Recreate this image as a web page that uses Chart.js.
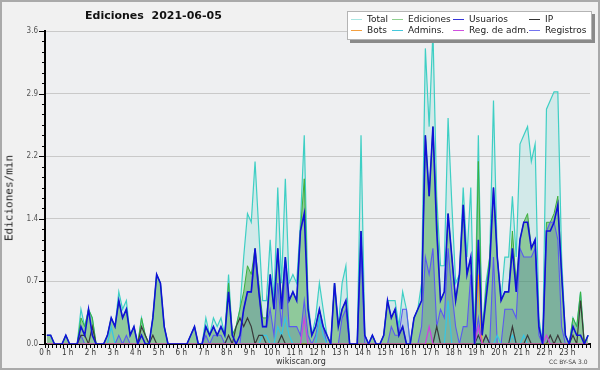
<!DOCTYPE html>
<html><head><meta charset="utf-8">
<script src="https://cdn.jsdelivr.net/npm/chart.js@4/dist/chart.umd.min.js"></script>
<style>
body{margin:0;background:#f1f1f1;}
#wrap{position:relative;width:600px;height:370px;overflow:hidden;background:#f1f1f1;}
#c{position:absolute;left:0;top:0;}
#frame{position:absolute;left:0;top:0;width:600px;height:370px;box-sizing:border-box;border:2px solid #aaaaaa;pointer-events:none;}
.t{position:absolute;white-space:nowrap;font-family:'DejaVu Sans',sans-serif;}
#title{left:85px;top:9px;font-size:11px;font-weight:bold;color:#111;line-height:14px;}
#ytitle{left:9px;top:198px;font-family:'DejaVu Sans Mono',monospace;font-size:11px;color:#222;transform:translate(-50%,-50%) rotate(-90deg);}
#site{left:276px;top:356px;font-size:8px;color:#333;line-height:11px;}
#lic{left:549px;top:358px;font-size:6px;color:#444;line-height:8px;}
#legend{position:absolute;left:347px;top:11px;width:245px;height:29px;background:#fff;border:1px solid #b4b4b4;box-shadow:3px 3px 0 #8a8a8a;box-sizing:border-box;}
.li{position:absolute;font-family:'DejaVu Sans',sans-serif;font-size:9px;color:#222;line-height:10px;white-space:nowrap;}
.ll{position:absolute;height:1px;width:11px;}
</style></head>
<body>
<div id="wrap">
<canvas id="c" width="600" height="370"></canvas>
<div class="t" id="title">Ediciones&nbsp; 2021-06-05</div>
<div class="t" id="ytitle">Ediciones/min</div>
<div class="t" id="site">wikiscan.org</div>
<div class="t" id="lic">CC BY-SA 3.0</div>
<div id="legend"></div>
<div id="frame"></div>
</div>
<script>
// ---- data: 144 ten-minute slots, edits per minute ----
const hourLabels = ['0 h','1 h','2 h','3 h','4 h','5 h','6 h','7 h','8 h','9 h','10 h','11 h','12 h','13 h','14 h','15 h','16 h','17 h','18 h','19 h','20 h','21 h','22 h','23 h'];
const yTickLabels = ['0.0','0.7','1.4','2.2','2.9','3.6'];

const total = [
 0.1,0.1,0,0,0,0.1,0,0,0,0.4,0.2,0.4,
 0.3,0,0,0,0.1,0.3,0.2,0.6,0.4,0.5,0.1,0.2,
 0,0.3,0.1,0,0.3,0.8,0.7,0.2,0,0,0,0,
 0,0,0.1,0.2,0,0,0.3,0.1,0.3,0.2,0.3,0.1,
 0.8,0.1,0.2,0.4,1.0,1.5,1.4,2.1,1.3,0.5,0.5,1.2,
 0.5,1.8,0.7,1.9,0.7,0.8,0.7,1.4,2.4,0.5,0.1,0.3,
 0.7,0.4,0.1,0,0.7,0.2,0.7,0.9,0,0,0,2.4,
 0.1,0,0.1,0,0,0.1,0.5,0.5,0.5,0.2,0.6,0.4,
 0,0.3,0.4,0.7,3.4,2.5,3.6,1.7,0.9,0.9,2.6,1.6,
 0.7,0.8,1.8,1.0,1.8,0,2.4,0.1,0.7,1.0,2.8,1.0,
 0.5,1.0,1.0,1.7,1.0,2.3,2.4,2.5,2.1,2.3,0.3,0,
 2.7,2.8,2.9,2.9,1.0,0.1,0,0.3,0.2,0.6,0,0.1];
const ediciones = [
 0.1,0.1,0,0,0,0.1,0,0,0,0.3,0.2,0.4,
 0.3,0,0,0,0.1,0.3,0.2,0.5,0.3,0.4,0.1,0.2,
 0,0.3,0.1,0,0.3,0.8,0.7,0.2,0,0,0,0,
 0,0,0.1,0.2,0,0,0.2,0.1,0.2,0.1,0.2,0.1,
 0.7,0.1,0.2,0.4,0.6,0.9,0.8,1.1,0.7,0.3,0.3,0.8,
 0.4,1.1,0.5,1.0,0.5,0.6,0.5,1.3,1.9,0.4,0.1,0.2,
 0.4,0.2,0.1,0,0.7,0.2,0.4,0.5,0,0,0,1.3,
 0.1,0,0.1,0,0,0.1,0.5,0.3,0.4,0.1,0.2,0,
 0,0.3,0.4,0.5,2.4,1.7,2.5,1.5,0.5,0.6,1.5,1.0,
 0.5,0.8,1.6,0.8,1.0,0,2.1,0.1,0.6,1.0,1.8,1.0,
 0.5,0.6,0.6,1.3,0.7,1.2,1.4,1.5,1.1,1.2,0.2,0,
 1.4,1.4,1.5,1.7,0.8,0.1,0,0.3,0.2,0.6,0,0.1];
const usuarios = [
 0.1,0.1,0,0,0,0.1,0,0,0,0.2,0.1,0.4,
 0.1,0,0,0,0.1,0.3,0.2,0.5,0.3,0.4,0.1,0.2,
 0,0.1,0,0,0.3,0.8,0.7,0.2,0,0,0,0,
 0,0,0.1,0.2,0,0,0.2,0.1,0.2,0.1,0.2,0.1,
 0.6,0.1,0,0.1,0.4,0.6,0.6,1.1,0.6,0.2,0.2,0.8,
 0.4,1.1,0.4,1.0,0.5,0.6,0.5,1.3,1.5,0.4,0.1,0.2,
 0.4,0.2,0.1,0,0.7,0.2,0.4,0.5,0,0,0,1.3,
 0.1,0,0.1,0,0,0.1,0.5,0.3,0.4,0.1,0.2,0,
 0,0.3,0.4,0.5,2.4,1.7,2.5,1.3,0.5,0.6,1.5,1.0,
 0.5,0.8,1.6,0.8,1.0,0,1.2,0.1,0.5,0.9,1.8,1.0,
 0.5,0.6,0.6,1.1,0.6,1.2,1.4,1.4,1.1,1.2,0.2,0,
 1.3,1.3,1.4,1.6,0.8,0.1,0,0.2,0.1,0.1,0,0.1];
const ip = [
 0,0,0,0,0,0,0,0,0,0.1,0.1,0,
 0.2,0,0,0,0,0,0,0,0,0,0,0,
 0,0.2,0.1,0,0.1,0,0,0,0,0,0,0,
 0,0,0,0,0,0,0,0,0,0,0,0,
 0.1,0,0.2,0.3,0.2,0.3,0.2,0,0.1,0.1,0,0,
 0,0,0.1,0,0,0,0,0,0,0,0,0,
 0,0,0,0,0,0,0,0,0,0,0,0,
 0,0,0,0,0,0,0,0,0,0,0,0,
 0,0,0,0,0,0,0,0.2,0,0,0,0,
 0,0,0,0,0,0,0.1,0,0.1,0,0,0,
 0,0,0,0.2,0,0,0,0.1,0,0,0,0,
 0,0.1,0,0.1,0,0,0,0.1,0,0.5,0,0];
const registros = [
 0,0,0,0,0,0,0,0,0,0.1,0,0,
 0,0,0,0,0,0,0,0.1,0,0.1,0,0,
 0,0,0,0,0,0,0,0,0,0,0,0,
 0,0,0,0,0,0,0.1,0,0.1,0.1,0.1,0,
 0.1,0,0,0,0.4,0.6,0.6,1.0,0.6,0.2,0.2,0.4,
 0.1,0.7,0.2,0.9,0.2,0.2,0.2,0.1,0.5,0.1,0,0.1,
 0.3,0.2,0,0,0,0,0.3,0.4,0,0,0,1.1,
 0,0,0,0,0,0,0,0.2,0.1,0.1,0.4,0.4,
 0,0,0,0.2,1.0,0.8,1.1,0.2,0.4,0.3,1.1,0.6,
 0.2,0,0.2,0.2,0.8,0,0.3,0,0.1,0,1.0,0,
 0,0.4,0.4,0.4,0.3,1.1,1.0,1.0,1.0,1.1,0.1,0,
 1.3,1.4,1.4,1.2,0.2,0,0,0,0,0,0,0];
const admins = [
 0,0,0,0,0,0,0,0,0,0,0,0,
 0,0,0,0,0,0.2,0,0,0,0,0,0,
 0,0,0,0,0,0,0,0,0,0,0,0,
 0,0,0,0,0,0,0,0,0,0,0,0,
 0,0,0,0,0,0,0,0,0,0.1,0.1,0,
 0,0.2,0.1,0.3,0.1,0,0,0,0,0,0,0,
 0.3,0.1,0,0,0,0,0,0,0,0,0,0,
 0,0,0,0,0,0,0,0,0,0,0,0,
 0,0,0,0,0,0,0,0,0,0,0.5,0,
 0,0,0,0,0,0,0.1,0,0,0,0,0.1,
 0,0,0,0.1,0,0,0.1,0,0,0,0,0,
 0,0,0,0,0,0,0,0,0,0,0,0];
const bots = [
 0,0,0,0,0,0,0,0,0,0,0,0,
 0,0,0,0,0,0,0,0,0,0,0,0,
 0,0,0,0,0,0,0,0,0,0,0,0,
 0,0,0,0,0,0,0,0,0,0,0,0,
 0,0,0,0,0,0,0,0,0,0,0,0,
 0,0,0,0,0,0,0,0,0,0,0,0,
 0,0,0,0,0,0,0,0,0,0,0,0,
 0,0,0,0,0,0,0,0,0,0,0,0,
 0,0,0,0,0,0,0,0,0,0,0,0,
 0,0,0,0,0,0,0.8,0,0,0,0,0,
 0,0,0,0,0,0,0,0,0,0,0,0,
 0,0,0,0,0,0,0,0,0,0,0,0];
const regAdm = [
 0,0,0,0,0,0,0,0,0,0,0,0,
 0,0,0,0,0,0,0,0,0,0,0,0,
 0,0,0,0,0,0,0,0,0,0,0,0,
 0,0,0,0,0,0,0,0,0,0,0,0,
 0,0,0,0,0,0,0,0,0,0,0,0,
 0,0,0,0,0,0,0,0,0.3,0,0,0,
 0,0,0,0,0,0,0,0,0,0,0,0,
 0,0,0,0,0,0,0,0,0,0,0,0,
 0,0,0,0,0,0.2,0,0,0,0,0,0,
 0,0,0,0,0,0,0.2,0,0,0,0,0,
 0,0,0,0,0,0,0,0,0,0,0,0,
 0.1,0,0,0,0,0,0,0,0,0,0,0];

// ---- series styling ----
const series = [
 {label:'Total',        data:total,     color:'#3ecfc4', legend:'#a8e6e2', width:1.2, fill:'rgba(70,205,190,0.16)', order:10, col:0,row:0},
 {label:'Ediciones',    data:ediciones, color:'#3cb03c', legend:'#8fd08f', width:1,   fill:'rgba(72,168,72,0.48)',  order:9,  col:1,row:0},
 {label:'Usuarios',     data:usuarios,  color:'#1010d8', legend:'#3535d8', width:1.6, fill:null, order:2, col:2,row:0},
 {label:'IP',           data:ip,        color:'#3a3a3a', legend:'#333333', width:1.2, fill:null, order:5, col:3,row:0},
 {label:'Bots',         data:bots,      color:'#ff9a20', legend:'#f4a040', width:1.2, fill:null, order:4, col:0,row:1},
 {label:'Admins.',      data:admins,    color:'#35c6e6', legend:'#45c8dc', width:1.2, fill:null, order:6, col:1,row:1},
 {label:'Reg. de adm.', data:regAdm,    color:'#d040e0', legend:'#d050e0', width:1.2, fill:null, order:3, col:2,row:1},
 {label:'Registros',    data:registros, color:'#5a5af0', legend:'#7474f0', width:1.1, fill:'rgba(40,60,170,0.17)', order:8, col:3,row:1}
];

const slotsPerHour = 6;
const datasets = series.map(s => ({
  label: s.label,
  data: s.data.map((v,i) => ({x:(i+0.5)/slotsPerHour, y:v})),
  borderColor: s.color,
  backgroundColor: s.fill || 'rgba(0,0,0,0)',
  borderWidth: s.width,
  fill: s.fill ? 'origin' : false,
  pointRadius: 0,
  tension: 0,
  order: s.order
}));

// legend (HTML)
const legendEl = document.getElementById('legend');
const colText = [19, 60, 121, 197], rowY = [2, 12.5];
series.forEach(s => {
  const ln = document.createElement('div');
  ln.className = 'll';
  ln.style.background = s.legend;
  ln.style.left = (colText[s.col] - 16) + 'px';
  ln.style.top = (rowY[s.row] + 5) + 'px';
  legendEl.appendChild(ln);
  const tx = document.createElement('div');
  tx.className = 'li';
  tx.textContent = s.label;
  tx.style.left = colText[s.col] + 'px';
  tx.style.top = rowY[s.row] + 'px';
  legendEl.appendChild(tx);
});

const tickFont = {family:"'DejaVu Sans Condensed','DejaVu Sans',sans-serif", size:8};
const nX = 24*slotsPerHour, yStep = 0.12, nY = 30;

const bgPlugin = {
  id:'bg',
  beforeDraw(chart){
    const a = chart.chartArea, ctx = chart.ctx;
    ctx.save(); ctx.fillStyle = '#eeeff1';
    ctx.fillRect(a.left, a.top, a.right-a.left, a.bottom-a.top); ctx.restore();
  },
  afterDraw(chart){
    const s = chart.scales.y, ctx = chart.ctx;
    ctx.save(); ctx.strokeStyle = '#000'; ctx.lineWidth = 1;
    s.ticks.forEach((t,k) => {
      const y = Math.round(s.getPixelForValue(t.value)) + 0.5;
      const len = k % 6 === 0 ? 6 : 3;
      ctx.beginPath(); ctx.moveTo(s.right - len, y); ctx.lineTo(s.right, y); ctx.stroke();
    });
    ctx.restore();
  }
};

new Chart(document.getElementById('c'), {
  type:'line',
  data:{datasets},
  options:{
    responsive:false, animation:false, devicePixelRatio:1,
    layout:{padding:{top:31,right:10,left:0,bottom:0}},
    plugins:{legend:{display:false}, tooltip:{enabled:false}, filler:{drawTime:'beforeDatasetsDraw'}},
    scales:{
      x:{type:'linear', min:0, max:24,
         afterBuildTicks:s => { s.ticks = Array.from({length:nX+1},(_,k)=>({value:k/slotsPerHour})); },
         afterFit:s => { s.height = 26; },
         ticks:{autoSkip:false, maxRotation:0, minRotation:0, padding:0, color:'#333', font:tickFont,
                callback:(v,idx) => (idx % slotsPerHour === 0 && idx < nX) ? hourLabels[idx/slotsPerHour] : ''},
         grid:{drawOnChartArea:false, tickLength:4, tickColor:'#000', tickWidth:1},
         border:{color:'#000', width:2}},
      y:{min:0, max:3.6,
         afterBuildTicks:s => { s.ticks = Array.from({length:nY+1},(_,k)=>({value:k*yStep})); },
         afterFit:s => { s.width = 45; },
         ticks:{autoSkip:false, padding:7, color:'#555', font:tickFont,
                callback:(v,idx) => idx % 6 === 0 ? yTickLabels[idx/6] : ''},
         grid:{drawTicks:false, color:c => (c.index % 6 === 0 && c.index > 0) ? '#c9c9c9' : 'rgba(0,0,0,0)', lineWidth:1},
         border:{color:'#000', width:2}}
    }
  },
  plugins:[bgPlugin]
});
</script>
</body></html>
